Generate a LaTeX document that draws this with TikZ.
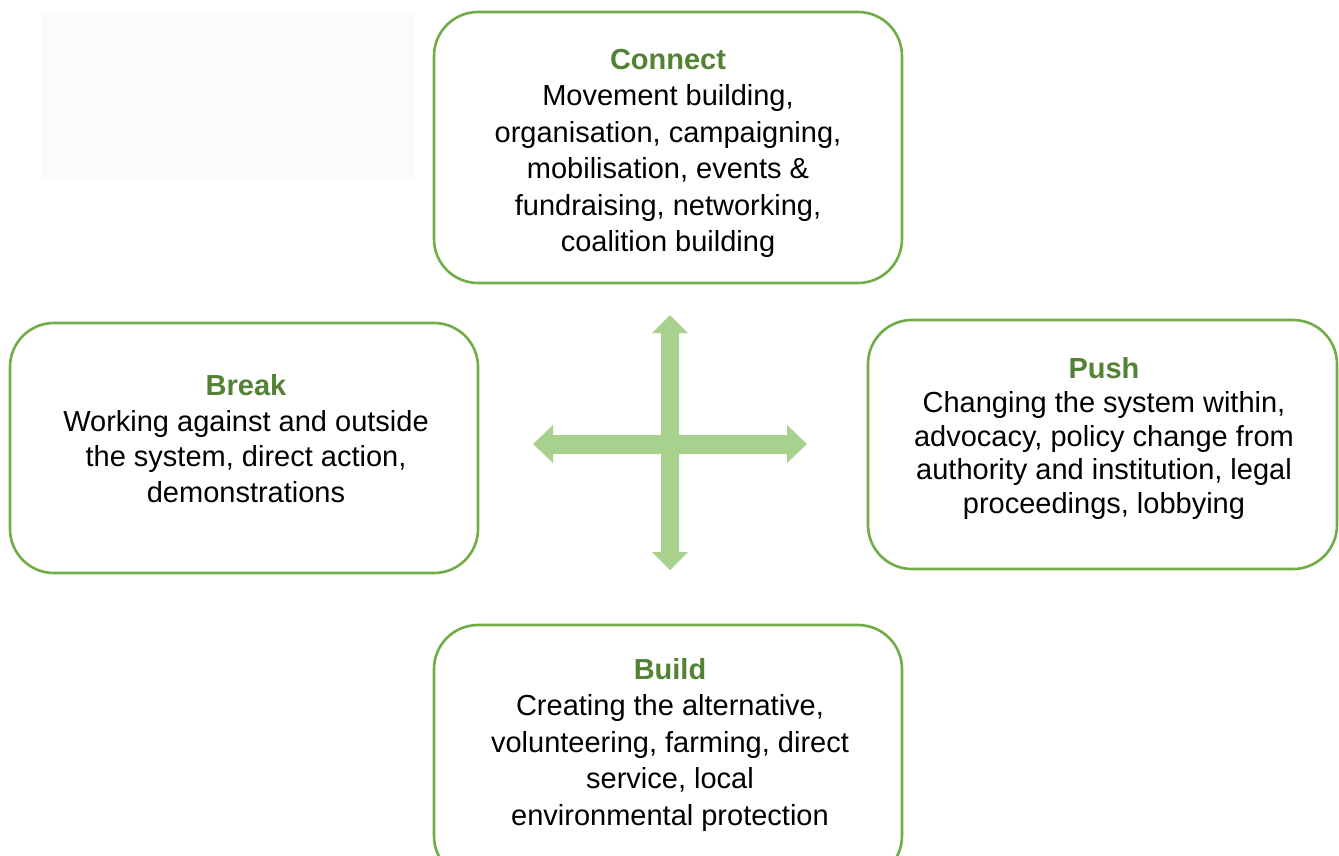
\documentclass[tikz,border=0pt]{standalone}
\usepackage{fontspec}
\setmainfont{Liberation Sans}
\definecolor{boxgreen}{HTML}{70AD47}
\definecolor{titlegreen}{HTML}{548235}
\definecolor{arrowgreen}{HTML}{A9D18E}
\definecolor{ghost}{HTML}{FBFBFB}
\tikzset{
  box/.style={draw=boxgreen, line width=2.6pt, rounded corners=44pt},
  txt/.style={inner sep=0pt, align=center, anchor=north, text=black},
  arrowfill/.style={fill=arrowgreen, draw=none},
}
\newcommand{\ttlx}[1]{\textcolor{titlegreen}{\bfseries #1}}
\begin{document}
\begin{tikzpicture}[x=1pt,y=-1pt]
\useasboundingbox (0,0) rectangle (1339,855);
\fill[white] (0,0) rectangle (1339,855);
% faint placeholder rectangle
\fill[ghost] (42,12) rectangle (414,178);
% boxes
\draw[box] (434,12) rectangle (902,283);
\draw[box] (10,323) rectangle (478,573);
\draw[box] (868,320) rectangle (1337,569);
\draw[box] (434,625) rectangle (902,880);
% cross arrows
\fill[arrowfill] (670,315) -- (688,333) -- (679,333) -- (679,435) -- (787,435) -- (787,425) -- (807,444)
  -- (787,463) -- (787,454) -- (679,454) -- (679,552) -- (688,552) -- (670,570) -- (652,552) -- (661,552)
  -- (661,454) -- (553,454) -- (553,463) -- (533,444) -- (553,425) -- (553,435) -- (661,435) -- (661,333)
  -- (652,333) -- cycle;
% texts
\node[txt, font=\fontsize{29}{36.5}\selectfont] (connect) at (668,49)
  {\ttlx{Connect}\\ Movement building,\\ organisation, campaigning,\\ mobilisation, events \&\\ fundraising, networking,\\ coalition building};
\node[txt, font=\fontsize{29}{35.5}\selectfont] (break) at (246,374.5)
  {\ttlx{Break}\\ Working against and outside\\ the system, direct action,\\ demonstrations};
\node[txt, font=\fontsize{29}{33.7}\selectfont] (push) at (1104,357.5)
  {\ttlx{Push}\\ Changing the system within,\\ advocacy, policy change from\\ authority and institution, legal\\ proceedings, lobbying};
\node[txt, font=\fontsize{29}{36.5}\selectfont] (build) at (670,658)
  {\ttlx{Build}\\ Creating the alternative,\\ volunteering, farming, direct\\ service, local\\ environmental protection};
\end{tikzpicture}
\end{document}
